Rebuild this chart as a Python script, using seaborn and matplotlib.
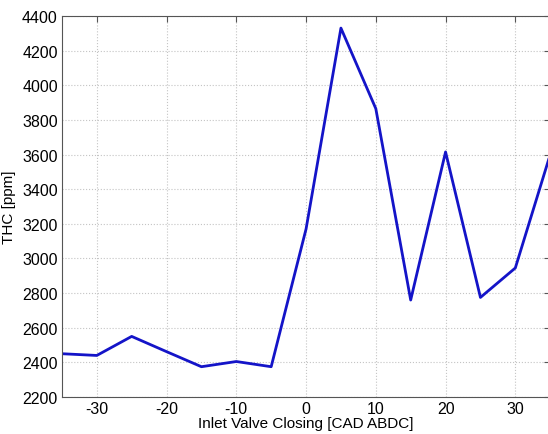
import matplotlib
matplotlib.use("Agg")
import matplotlib.pyplot as plt
import seaborn as sns
import pandas as pd

sns.set_style("white")
plt.rcParams['font.family'] = ['Liberation Sans', 'DejaVu Sans']
plt.rcParams['axes.unicode_minus'] = False

ivc = [-35, -30, -25, -20, -15, -10, -5, 0, 5, 10, 15, 20, 25, 30, 35]
thc = [2450, 2440, 2550, 2462, 2375, 2405, 2375, 3170, 4330, 3865, 2760, 3615, 2775, 2945, 3600]
xticks = [-30, -20, -10, 0, 10, 20, 30]
yticks = [2200, 2400, 2600, 2800, 3000, 3200, 3400, 3600, 3800, 4000, 4200, 4400]

df = pd.DataFrame({'ivc': ivc, 'thc': thc})

fig = plt.figure(figsize=(5.48, 4.35), dpi=100)
ax = fig.add_axes([0.113, 0.085, 0.891, 0.876])
sns.lineplot(x='ivc', y='thc', data=df, color='#1414c8', linewidth=2, ax=ax)

ax.set_xlim(-35, 35)
ax.set_ylim(2200, 4400)
ax.set_xticks(xticks)
ax.set_yticks(yticks)
ax.grid(True, linestyle=':', color='#c4c4c4', linewidth=0.8)
ax.tick_params(direction='in', length=4, labelsize=11.5, top=True, right=True,
               color='#555555', labelcolor='black', pad=3)
for s in ax.spines.values():
    s.set_color('#555555')
    s.set_linewidth(0.8)
ax.set_xlabel('Inlet Valve Closing [CAD ABDC]', fontsize=11, labelpad=0, color='black')
ax.set_ylabel('THC [ppm]', fontsize=11, labelpad=4, color='black')

fig.savefig('out.png', dpi=100)
